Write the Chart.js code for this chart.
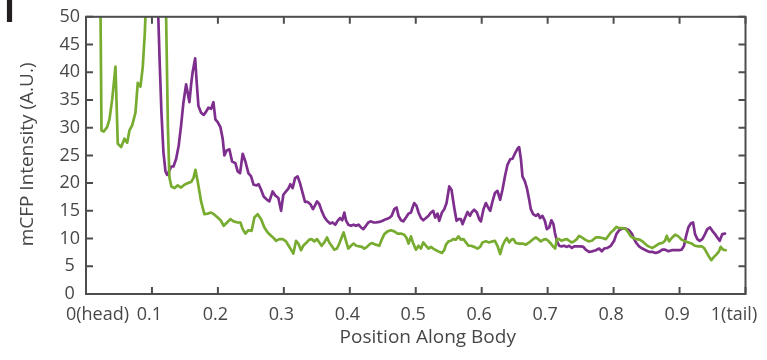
<!DOCTYPE html>
<html>
<head>
<meta charset="utf-8">
<title>mCFP intensity along body</title>
<script src="https://cdn.jsdelivr.net/npm/chart.js@4.4.1/dist/chart.umd.min.js"></script>
<style>
  html, body { margin: 0; padding: 0; background: #fff; }
  canvas { display: block; }
</style>
</head>
<body>
<canvas id="profile" width="767" height="360"></canvas>
<script>
// tick labels on the position axis (0 = head, 1 = tail)
const xTickLabels = ['0(head)', '0.1', '0.2', '0.3', '0.4', '0.5', '0.6', '0.7', '0.8', '0.9', '1(tail)']
const xTitle = 'Position Along Body'
const yTitle = 'mCFP Intensity (A.U.)'

// green trace
const greenPos = [
  0.021, 0.0235, 0.027, 0.032, 0.0356, 0.0397, 0.0447, 0.0482, 0.0533, 0.0583,
  0.0624, 0.0659, 0.070, 0.075, 0.0785, 0.0826, 0.0861, 0.0891, 0.0917, 0.1053,
  0.1212, 0.1242, 0.1265, 0.1295, 0.1341, 0.1391, 0.1442, 0.1492, 0.1542, 0.1594,
  0.1629, 0.1659, 0.1694, 0.1745, 0.1795, 0.1845, 0.1897, 0.1947, 0.1997, 0.2048,
  0.2088, 0.2139, 0.2189, 0.2239, 0.23, 0.2341, 0.2376, 0.2417, 0.2462, 0.2512,
  0.2553, 0.2603, 0.2655, 0.2705, 0.2755, 0.2806, 0.2845, 0.2882, 0.2932, 0.2982,
  0.3033, 0.3068, 0.3109, 0.3144, 0.3185, 0.322, 0.3261, 0.33, 0.3345, 0.3386,
  0.3421, 0.3462, 0.3503, 0.3538, 0.3573, 0.3614, 0.3655, 0.3689, 0.3724, 0.3765,
  0.3806, 0.3841, 0.3876, 0.3906, 0.3942, 0.3977, 0.4018, 0.4058, 0.4098, 0.4144,
  0.4185, 0.422, 0.4261, 0.4295, 0.433, 0.4371, 0.4447, 0.4488, 0.4523, 0.4573,
  0.4624, 0.4674, 0.4724, 0.4776, 0.4826, 0.4861, 0.4891, 0.4927, 0.4962, 0.5003,
  0.5042, 0.5079, 0.5114, 0.5155, 0.5194, 0.523, 0.5265, 0.5306, 0.5356, 0.5397,
  0.5432, 0.5458, 0.5497, 0.5533, 0.5568, 0.5609, 0.5648, 0.5685, 0.5724, 0.5761,
  0.58, 0.5836, 0.5886, 0.5936, 0.5977, 0.6012, 0.6064, 0.6114, 0.6164, 0.62,
  0.6239, 0.628, 0.6315, 0.6352, 0.6382, 0.6417, 0.6452, 0.6482, 0.6518, 0.6568,
  0.6618, 0.667, 0.672, 0.677, 0.6821, 0.6856, 0.6897, 0.6936, 0.6973, 0.7008,
  0.7048, 0.7088, 0.7114, 0.7139, 0.7174, 0.7209, 0.725, 0.7291, 0.7326, 0.7361,
  0.7402, 0.7442, 0.7477, 0.7518, 0.7568, 0.7618, 0.767, 0.773, 0.778, 0.783,
  0.7882, 0.7921, 0.7958, 0.7997, 0.8042, 0.8083, 0.8133, 0.8185, 0.8224, 0.826,
  0.83, 0.8345, 0.8397, 0.8436, 0.8473, 0.8512, 0.8548, 0.8588, 0.8639, 0.8689,
  0.8739, 0.878, 0.8806, 0.8841, 0.8882, 0.8932, 0.8982, 0.9033, 0.9083, 0.9133,
  0.9185, 0.9235, 0.9285, 0.9336, 0.9371, 0.9406, 0.9447, 0.9482, 0.9523, 0.9564,
  0.9598, 0.9624, 0.9659, 0.97
]
const greenVals = [
  65, 29.5, 29.3, 30.1, 31.5, 35.1, 41.0, 27.1, 26.5, 28.0,
  27.3, 29.5, 30.4, 32.7, 38.1, 37.4, 41.0, 46.9, 55, 62,
  52, 30, 21, 19.4, 19.1, 19.6, 19.2, 19.7, 20.0, 20.2,
  20.9, 22.4, 20.3, 16.7, 14.4, 14.5, 14.7, 14.3, 13.8, 13.2,
  12.3, 12.9, 13.5, 13.1, 12.9, 12.9, 11.7, 10.9, 11.5, 11.4,
  13.8, 14.4, 13.5, 12.0, 11.1, 10.5, 10.1, 9.6, 9.9, 9.9,
  9.5, 8.8, 8.0, 7.3, 9.6, 9.1, 7.9, 8.8, 9.3, 9.8,
  9.9, 9.5, 9.9, 9.3, 8.7, 9.3, 10.2, 9.3, 8.7, 8.0,
  8.2, 9.1, 10.2, 11.1, 9.6, 8.2, 8.7, 9.1, 8.7, 8.6,
  8.5, 8.2, 8.5, 8.9, 9.2, 9.0, 8.7, 9.9, 10.8, 11.3,
  11.5, 11.3, 10.9, 10.9, 10.7, 10.1, 9.1, 10.4, 9.1, 8.0,
  8.7, 8.2, 9.3, 8.7, 8.2, 8.5, 8.2, 7.9, 7.6, 7.4,
  7.9, 8.9, 9.5, 9.6, 9.9, 9.8, 10.4, 9.8, 9.9, 9.3,
  8.7, 8.7, 8.5, 8.2, 8.5, 9.3, 9.5, 9.3, 9.5, 9.6,
  8.7, 7.2, 8.7, 9.6, 10.1, 9.3, 9.8, 9.9, 9.2, 9.1,
  9.1, 8.9, 9.3, 9.8, 10.2, 9.9, 9.5, 9.8, 9.9, 9.6,
  9.1, 8.5, 8.2, 9.9, 9.9, 9.6, 9.8, 9.9, 9.6, 9.3,
  9.5, 9.9, 10.5, 10.2, 9.8, 9.5, 9.6, 10.2, 10.2, 10.1,
  9.9, 10.5, 11.1, 11.5, 12.1, 11.9, 11.9, 11.7, 11.1, 10.4,
  10.1, 9.9, 9.8, 9.5, 9.1, 8.7, 8.5, 8.3, 8.7, 9.1,
  9.2, 9.6, 10.5, 9.5, 10.1, 10.7, 10.4, 9.8, 9.5, 9.3,
  9.1, 8.7, 8.6, 8.6, 8.3, 7.6, 6.7, 6.1, 6.7, 7.2,
  7.7, 8.5, 8.0, 7.9
]

// purple trace
const purplePos = [
  0.0962, 0.1091, 0.1118, 0.1144, 0.1174, 0.1205, 0.123, 0.1265, 0.1295, 0.1326,
  0.1367, 0.1406, 0.1442, 0.1477, 0.1518, 0.1542, 0.1568, 0.1594, 0.1618, 0.1655,
  0.1679, 0.1705, 0.1745, 0.1785, 0.1821, 0.1856, 0.1897, 0.1932, 0.1962, 0.1997,
  0.2038, 0.2073, 0.2098, 0.2133, 0.2174, 0.2215, 0.2265, 0.23, 0.2336, 0.2376,
  0.2417, 0.2462, 0.2503, 0.2542, 0.2588, 0.2618, 0.2655, 0.2694, 0.2745, 0.278,
  0.283, 0.2867, 0.2917, 0.2958, 0.2992, 0.3033, 0.3068, 0.3098, 0.3133, 0.317,
  0.3209, 0.3245, 0.3285, 0.3321, 0.3361, 0.3402, 0.3442, 0.3473, 0.3503, 0.3538,
  0.3573, 0.3614, 0.3655, 0.37, 0.3739, 0.378, 0.3815, 0.3852, 0.3886, 0.3917,
  0.3942, 0.3977, 0.4018, 0.4058, 0.4094, 0.4133, 0.417, 0.4205, 0.4245, 0.428,
  0.4321, 0.4361, 0.4397, 0.4447, 0.4497, 0.4548, 0.4598, 0.4636, 0.4674, 0.4709,
  0.4739, 0.4776, 0.4811, 0.4852, 0.4891, 0.4927, 0.4952, 0.4977, 0.5012, 0.5042,
  0.5079, 0.5114, 0.5155, 0.5194, 0.523, 0.5265, 0.5295, 0.533, 0.5356, 0.5397,
  0.5432, 0.5467, 0.5508, 0.5542, 0.5583, 0.5618, 0.5648, 0.5685, 0.5709, 0.575,
  0.5785, 0.5821, 0.5852, 0.5886, 0.5927, 0.5962, 0.5988, 0.6027, 0.6064, 0.6098,
  0.6129, 0.6164, 0.62, 0.6239, 0.628, 0.6315, 0.6352, 0.6391, 0.6432, 0.6467,
  0.6503, 0.6542, 0.6568, 0.6594, 0.6618, 0.6655, 0.6685, 0.672, 0.6745, 0.678,
  0.6821, 0.6856, 0.6886, 0.6921, 0.6958, 0.6988, 0.7023, 0.7058, 0.7088, 0.7109,
  0.7139, 0.7174, 0.7209, 0.725, 0.7291, 0.7326, 0.7367, 0.7402, 0.7452, 0.7503,
  0.7542, 0.7577, 0.7627, 0.7679, 0.773, 0.778, 0.7821, 0.7856, 0.7906, 0.7958,
  0.8008, 0.8042, 0.8083, 0.8133, 0.8185, 0.8235, 0.8276, 0.8311, 0.8345, 0.8386,
  0.8436, 0.8488, 0.8538, 0.8588, 0.8639, 0.8689, 0.8739, 0.878, 0.883, 0.8882,
  0.8942, 0.8992, 0.9033, 0.9068, 0.9094, 0.9133, 0.917, 0.9205, 0.9235, 0.927,
  0.9306, 0.9345, 0.9386, 0.9421, 0.9462, 0.9497, 0.9538, 0.9573, 0.9609, 0.9648, 0.9689
]
const purpleVals = [
  60, 52, 41.6, 32.7, 25.6, 22.1, 21.5, 22.3, 23.0, 23.0,
  24.4, 26.8, 30.4, 34.5, 37.8, 36.3, 34.6, 37.8, 40.1, 42.5,
  38.1, 33.9, 32.7, 32.3, 32.9, 33.6, 33.4, 34.6, 31.5, 31.0,
  30.1, 28.0, 25.0, 25.9, 26.1, 23.9, 23.6, 22.1, 21.8, 25.3,
  23.9, 21.8, 21.2, 19.7, 19.6, 19.8, 18.8, 17.6, 17.0, 16.7,
  18.5, 17.8, 17.3, 15.0, 17.9, 18.5, 19.0, 19.8, 19.1, 20.9,
  21.2, 20.0, 18.2, 16.6, 16.6, 16.2, 15.3, 16.0, 16.7, 16.2,
  15.0, 13.9, 13.2, 12.7, 12.9, 12.5, 13.2, 13.7, 13.3, 14.7,
  13.3, 12.5, 12.3, 12.5, 12.3, 12.5, 12.0, 11.7, 12.3, 12.9,
  13.1, 12.9, 12.9, 13.0, 13.2, 13.5, 13.7, 14.1, 15.3, 15.6,
  14.1, 13.3, 13.1, 13.8, 14.5, 14.7, 15.6, 16.4, 15.9, 14.7,
  13.7, 13.3, 13.7, 14.1, 14.7, 15.0, 13.8, 14.5, 13.2, 14.7,
  15.3, 16.4, 19.4, 18.8, 15.6, 13.2, 13.5, 13.5, 12.6, 13.8,
  14.8, 14.1, 14.8, 15.2, 14.7, 13.5, 13.1, 15.3, 16.4, 15.6,
  15.0, 16.7, 18.2, 18.6, 17.0, 18.8, 21.2, 23.3, 24.3, 24.4,
  25.3, 26.2, 26.5, 24.4, 21.2, 20.3, 19.1, 17.0, 15.3, 14.4,
  14.1, 14.4, 13.7, 14.1, 13.2, 11.7, 12.0, 13.3, 12.6, 11.1,
  9.6, 8.7, 8.6, 8.7, 8.5, 8.7, 8.3, 8.6, 8.6, 8.6,
  8.5, 8.0, 7.6, 7.7, 7.9, 8.2, 7.7, 8.2, 8.3, 8.7,
  9.6, 10.8, 11.5, 11.8, 11.8, 11.5, 10.9, 9.9, 9.2, 8.6,
  8.2, 7.9, 7.6, 7.6, 7.4, 7.6, 8.0, 8.0, 7.7, 7.9,
  7.9, 7.9, 8.0, 8.7, 10.2, 12.0, 12.7, 12.9, 10.8, 9.9,
  9.6, 9.9, 10.8, 11.7, 12.0, 11.4, 10.8, 10.2, 9.6, 10.8, 10.9
]

const fontFamily = "'Open Sans', sans-serif"
const textColor = '#474747'
const axisColor = '#4d4d4d'
const tickLen = 7

Chart.defaults.font.family = fontFamily
Chart.defaults.font.size = 18
Chart.defaults.color = textColor

const toPoints = (pos, vals) => pos.map((x, i) => ({ x: x, y: vals[i] }))

// box frame with inward ticks on all four sides, x labels and axis titles
const frame = {
  id: 'frame',
  afterDatasetsDraw(chart) {
    const { ctx, chartArea: a } = chart
    const xs = chart.scales.x
    const ys = chart.scales.y

    ctx.save()
    ctx.strokeStyle = axisColor
    ctx.lineWidth = 2
    ctx.beginPath()
    xs.ticks.forEach(t => {
      const px = xs.getPixelForValue(t.value)
      ctx.moveTo(px, a.bottom)
      ctx.lineTo(px, a.bottom - tickLen)
      ctx.moveTo(px, a.top)
      ctx.lineTo(px, a.top + tickLen)
    })
    ys.ticks.forEach(t => {
      const py = ys.getPixelForValue(t.value)
      ctx.moveTo(a.left, py)
      ctx.lineTo(a.left + tickLen, py)
      ctx.moveTo(a.right, py)
      ctx.lineTo(a.right - tickLen, py)
    })
    ctx.stroke()
    ctx.strokeRect(a.left, a.top, a.right - a.left, a.bottom - a.top)

    ctx.fillStyle = textColor
    ctx.font = '18px ' + fontFamily
    ctx.textAlign = 'center'
    ctx.textBaseline = 'alphabetic'
    const last = xs.ticks.length - 1
    xs.ticks.forEach((t, i) => {
      let shift = -2.5
      if (i === 0) shift = 11.5
      if (i === last) shift = -11.5
      ctx.fillText(xTickLabels[i], xs.getPixelForValue(t.value) + shift, a.bottom + 26)
    })

    ctx.font = '19px ' + fontFamily
    ctx.fillText(xTitle, (a.left + a.right) / 2 + 12, a.bottom + 49)

    ctx.save()
    ctx.translate(33, (a.top + a.bottom) / 2 - 1)
    ctx.rotate(-Math.PI / 2)
    ctx.fillText(yTitle, 0, 0)
    ctx.restore()

    // panel letter
    ctx.fillStyle = '#231f20'
    ctx.font = "bold 36px 'Liberation Sans', sans-serif"
    ctx.textAlign = 'left'
    ctx.fillText('I', 4.5, 22)
    ctx.restore()
  }
}

const chart = new Chart(document.getElementById('profile'), {
  type: 'line',
  data: {
    datasets: [
      {
        label: 'green trace',
        data: toPoints(greenPos, greenVals),
        borderColor: '#77AC30',
        borderWidth: 2.7,
        pointRadius: 0,
        tension: 0,
        borderJoinStyle: 'round',
        borderCapStyle: 'round'
      },
      {
        label: 'purple trace',
        data: toPoints(purplePos, purpleVals),
        borderColor: '#7E2F8E',
        borderWidth: 2.7,
        pointRadius: 0,
        tension: 0,
        borderJoinStyle: 'round',
        borderCapStyle: 'round'
      }
    ]
  },
  options: {
    responsive: false,
    animation: false,
    devicePixelRatio: 1,
    layout: { padding: { top: 13, right: 21.5, bottom: 0, left: 0 } },
    plugins: {
      legend: { display: false },
      tooltip: { enabled: false }
    },
    scales: {
      x: {
        type: 'linear',
        min: 0,
        max: 1,
        ticks: { stepSize: 0.1, display: false },
        grid: { display: false },
        border: { display: false },
        afterFit: s => { s.height = 66 }
      },
      y: {
        min: 0,
        max: 50,
        ticks: { stepSize: 5, padding: 6, crossAlign: 'center', color: textColor },
        grid: { display: false, drawTicks: false },
        border: { display: false },
        afterFit: s => { s.width = 86 }
      }
    }
  },
  plugins: [frame]
})
</script>
</body>
</html>
